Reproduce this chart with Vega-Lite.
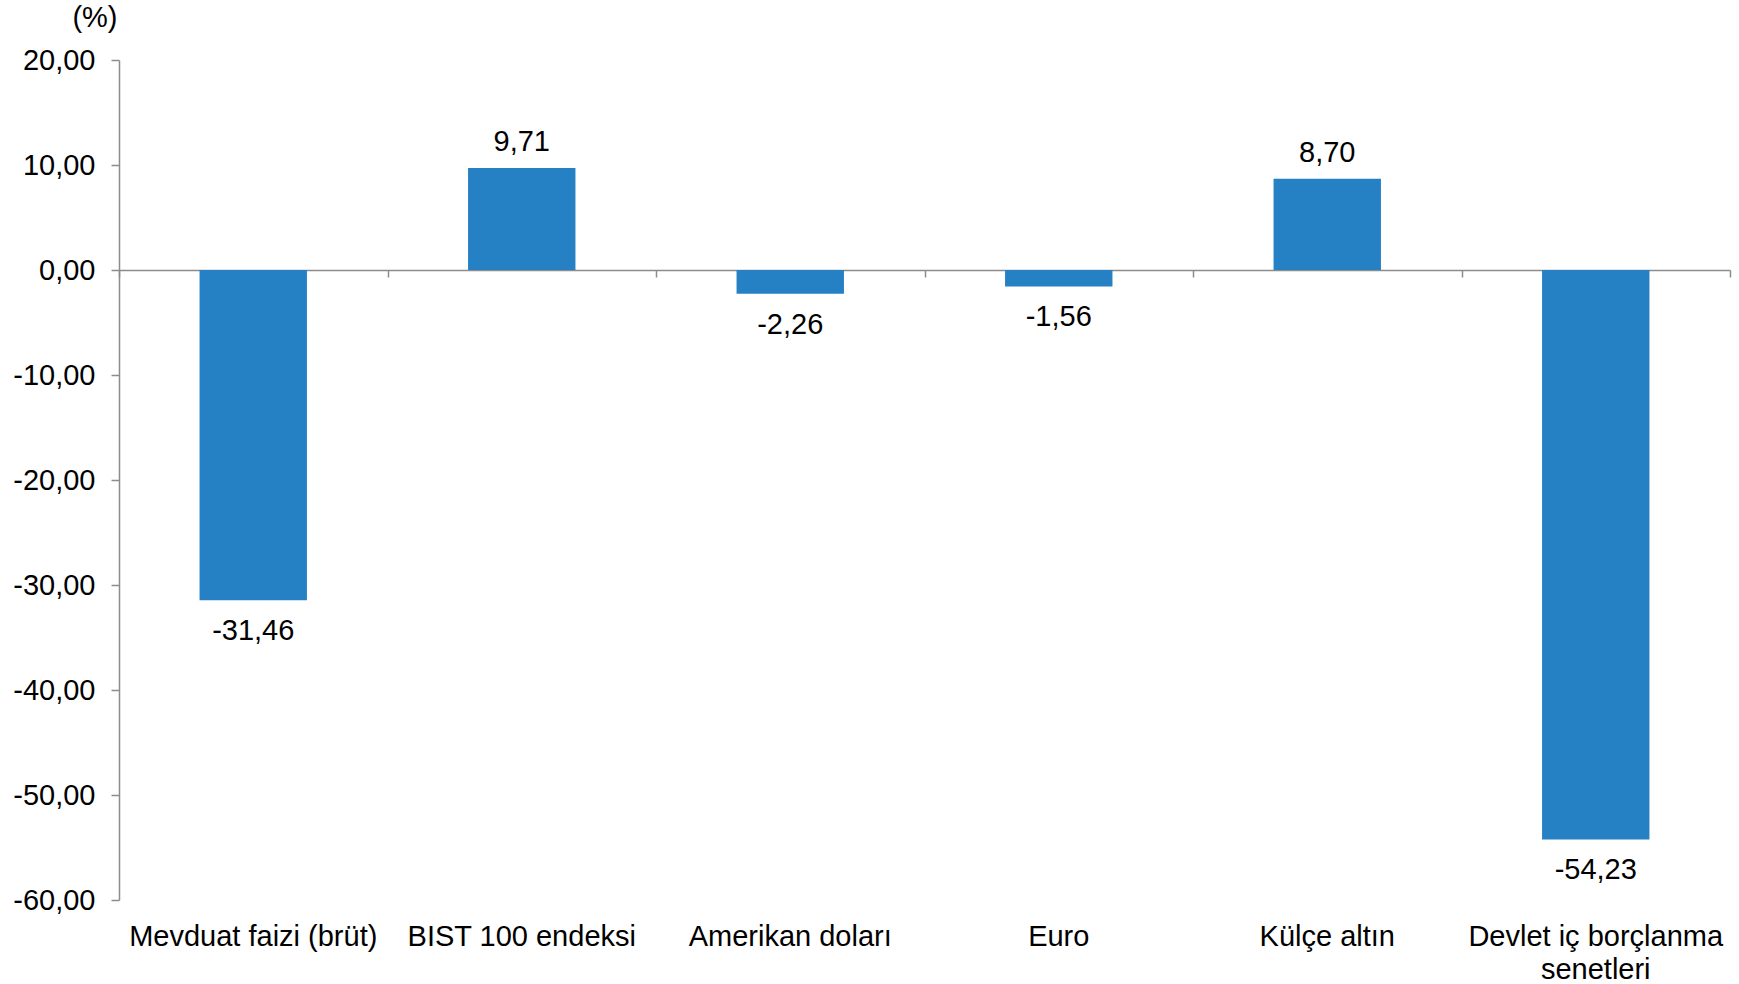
{
  "$schema": "https://vega.github.io/schema/vega-lite/v6.json",
  "width": 1611,
  "height": 840,
  "autosize": {"type": "none"},
  "padding": {"left": 119, "top": 60, "right": 9, "bottom": 84},
  "background": "white",
  "config": {
    "view": {"stroke": null},
    "font": "Liberation Sans",
    "locale": {"number": {"decimal": ",", "thousands": ".", "grouping": [3], "currency": ["", ""], "minus": "-"}},
    "axis": {"grid": false, "labelFont": "Liberation Sans", "titleFont": "Liberation Sans", "labelColor": "#000000", "titleColor": "#000000"}
  },
  "data": {"values": [
    {"cat": "Mevduat faizi (brüt)", "value": -31.46},
    {"cat": "BIST 100 endeksi", "value": 9.71},
    {"cat": "Amerikan doları", "value": -2.26},
    {"cat": "Euro", "value": -1.56},
    {"cat": "Külçe altın", "value": 8.70},
    {"cat": "Devlet iç borçlanma senetleri", "value": -54.23}
  ]},
  "encoding": {
    "y": {
      "field": "value", "type": "quantitative",
      "scale": {"domain": [-60, 20], "nice": false, "zero": false},
      "axis": {
        "values": [-60, -50, -40, -30, -20, -10, 0, 10, 20],
        "format": ".2f",
        "labelFontSize": 29, "labelPadding": 16,
        "tickSize": 8, "tickColor": "#8c8c8c", "domainColor": "#8c8c8c", "domainWidth": 1.5, "tickWidth": 1.5,
        "title": "(%)", "titleAngle": 0, "titleFontSize": 29, "titleFontWeight": "normal",
        "titleX": -2, "titleY": -43, "titleAlign": "right", "titleBaseline": "middle"
      }
    }
  },
  "layer": [
    {
      "mark": {"type": "bar", "color": "#2680C4", "width": {"band": 0.4}},
      "encoding": {
        "x": {
          "field": "cat", "type": "nominal", "sort": null,
          "scale": {"paddingInner": 0, "paddingOuter": 0},
          "axis": {"orient": "bottom", "offset": -630, "labels": false, "title": null,
                   "domain": true, "domainColor": "#8c8c8c", "domainWidth": 1.5,
                   "ticks": true, "tickBand": "extent", "tickSize": 7, "tickColor": "#8c8c8c", "tickWidth": 1.5}
        }
      }
    },
    {
      "transform": [{"filter": "datum.value >= 0"}],
      "mark": {"type": "text", "baseline": "bottom", "dy": -11, "fontSize": 29, "color": "#000000"},
      "encoding": {
        "x": {
          "field": "cat", "type": "nominal", "sort": null,
          "axis": {"orient": "bottom", "domain": false, "ticks": false, "title": null, "labelAngle": 0,
                   "labelFontSize": 29, "labelPadding": 22, "labelLineHeight": 33, "labelBaseline": "top", "labelLimit": 0,
                   "labelExpr": "datum.value == 'Devlet iç borçlanma senetleri' ? ['Devlet iç borçlanma', 'senetleri'] : datum.label"}
        },
        "text": {"field": "value", "type": "quantitative", "format": ".2f"}
      }
    },
    {
      "transform": [{"filter": "datum.value < 0"}],
      "mark": {"type": "text", "baseline": "top", "dy": 17, "fontSize": 29, "color": "#000000"},
      "encoding": {
        "x": {"field": "cat", "type": "nominal", "sort": null, "axis": null},
        "text": {"field": "value", "type": "quantitative", "format": ".2f"}
      }
    }
  ],
  "resolve": {"axis": {"x": "independent"}}
}
